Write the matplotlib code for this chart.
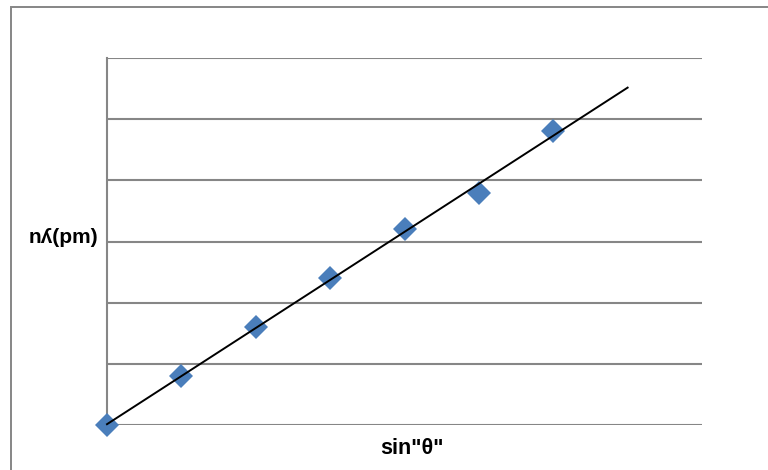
import numpy as np
import matplotlib.pyplot as plt
from matplotlib.patches import Rectangle

# data
sin_theta = [0, 1, 2, 3, 4, 5, 6]
n_lambda = [0, 0.80, 1.60, 2.40, 3.20, 3.79, 4.81]

W, H = 768, 470
fig = plt.figure(figsize=(W / 100, H / 100), dpi=100)

# outer chart border (Excel style)
fig.patches.append(Rectangle((10.5 / W, -0.1), 2, (H - 6.5) / H + 0.1,
                             transform=fig.transFigure, fill=False,
                             edgecolor='#868686', linewidth=1.4))

ax = fig.add_axes([107 / W, (H - 425) / H, (702 - 107) / W, (425 - 58) / H])

#trendline through the points
slope, icpt = np.polyfit(sin_theta, n_lambda, 1)
xt = np.array([0, 7])
ax.plot(xt, slope * xt + icpt, color='black', linewidth=1.4, zorder=4,
        clip_on=False)

ax.plot(sin_theta, n_lambda, linestyle='none', marker='D', markersize=12,
        color='#4a7ebb', markeredgewidth=0, zorder=3, clip_on=False)

ax.set_xlim(0, 8)
ax.set_ylim(0, 6)
ax.set_yticks(range(7))
ax.set_xticks([])
ax.tick_params(left=False, labelleft=False)
ax.grid(axis='y', color='#868686', linewidth=1.5)
ax.set_axisbelow(True)
for s in ['top', 'right', 'bottom']:
    ax.spines[s].set_visible(False)
ax.spines['left'].set_color('#868686')
ax.spines['left'].set_linewidth(1.5)

fonts = ['Liberation Sans', 'DejaVu Sans']
fig.text(63 / W, 1 - 238 / H, 'n\u028e(pm)', family=fonts, fontweight='bold',
         fontsize=15, ha='center', va='center')
fig.text(412 / W, 1 - 448 / H, 'sin"\u03b8"', family=fonts, fontweight='bold',
         fontsize=15.5, ha='center', va='center')

fig.savefig('out.png', dpi=100)
